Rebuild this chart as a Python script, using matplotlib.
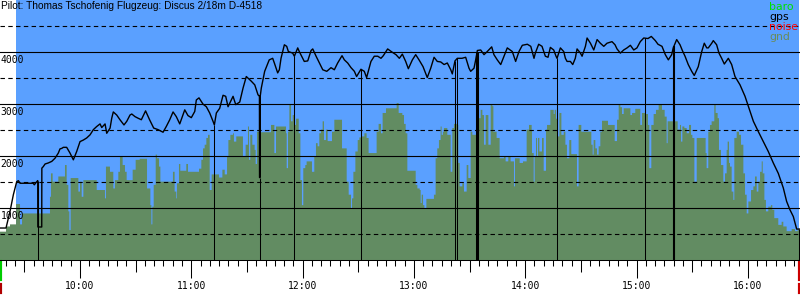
import numpy as np
import matplotlib
matplotlib.use("Agg")
import matplotlib.pyplot as plt
import matplotlib.transforms as mtransforms

title = "Pilot: Thomas Tschofenig Flugzeug: Discus 2/18m D-4518"

# time in decimal hours, altitude in m
gps_t = [9.281, 9.335, 9.371, 9.401, 9.431, 9.446, 9.461, 9.580, 9.589, 9.611, 9.620, 9.621, 9.656, 9.657,
         9.670, 9.686, 9.715, 9.746, 9.775, 9.805, 9.820, 9.836, 9.850, 9.880, 9.910, 9.940, 9.970,
         10.000, 10.030, 10.060, 10.090, 10.120, 10.150, 10.180, 10.195, 10.225, 10.240, 10.270, 10.285,
         10.299, 10.330, 10.359, 10.395, 10.420, 10.449, 10.465, 10.494, 10.521, 10.551, 10.589, 10.625,
         10.662, 10.701, 10.746, 10.775, 10.806, 10.836, 10.865, 10.896, 10.941, 10.970, 11.000, 11.031,
         11.045, 11.069, 11.105, 11.135, 11.165, 11.195, 11.207, 11.225, 11.255, 11.285, 11.309, 11.330,
         11.375, 11.399, 11.435, 11.465, 11.494, 11.539, 11.570, 11.599, 11.612, 11.613, 11.618, 11.619,
         11.629, 11.659, 11.689, 11.700, 11.731, 11.746, 11.776, 11.791, 11.806, 11.836, 11.857, 11.872,
         11.911, 11.926, 11.956, 11.970, 12.015, 12.046, 12.076, 12.091, 12.121, 12.151, 12.181, 12.217,
         12.255, 12.285, 12.315, 12.354, 12.375, 12.405, 12.435, 12.465, 12.485, 12.524, 12.554, 12.575,
         12.614, 12.644, 12.675, 12.704, 12.725, 12.764, 12.803, 12.839, 12.869, 12.896, 12.926, 12.950,
         12.986, 13.016, 13.046, 13.082, 13.120, 13.151, 13.181, 13.210, 13.241, 13.271, 13.300, 13.331,
         13.345, 13.369, 13.390, 13.432, 13.465, 13.495, 13.510, 13.540, 13.555, 13.570, 13.600, 13.630,
         13.659, 13.699, 13.719, 13.749, 13.780, 13.809, 13.839, 13.884, 13.914, 13.944, 13.974, 14.019,
         14.050, 14.079, 14.091, 14.121, 14.151, 14.181, 14.205, 14.226, 14.256, 14.277, 14.286, 14.316,
         14.346, 14.361, 14.376, 14.406, 14.427, 14.450, 14.466, 14.496, 14.511, 14.541, 14.556, 14.586,
         14.616, 14.646, 14.675, 14.706, 14.735, 14.780, 14.807, 14.825, 14.855, 14.885, 14.915, 14.945,
         14.975, 15.004, 15.034, 15.065, 15.103, 15.133, 15.169, 15.193, 15.229, 15.259, 15.286, 15.316,
         15.330, 15.361, 15.391, 15.412, 15.436, 15.465, 15.496, 15.519, 15.555, 15.586, 15.609, 15.631,
         15.645, 15.676, 15.690, 15.720, 15.741, 15.765, 15.789, 15.825, 15.855, 15.885, 15.930, 15.975,
         16.020, 16.050, 16.095, 16.140, 16.184, 16.229, 16.274, 16.319, 16.349, 16.379, 16.409, 16.439,
         16.469]
gps_alt = [620, 620, 940, 1260, 1510, 1530, 1480, 1480, 1450, 1510, 1530, 640, 640, 1770,
           1800, 1850, 1870, 1900, 1960, 2060, 2140, 2150, 2170, 2170, 2060, 1930, 2090,
           2280, 2310, 2350, 2410, 2510, 2570, 2620, 2550, 2620, 2440, 2540, 2730,
           2850, 2790, 2700, 2600, 2670, 2790, 2810, 2760, 2730, 2700, 2870, 2700,
           2540, 2510, 2460, 2570, 2700, 2850, 2760, 2620, 2890, 2780, 2740, 2860,
           3080, 3120, 3000, 2950, 2830, 2670, 2600, 2830, 2920, 3170, 3150, 2950,
           3150, 2990, 3040, 3310, 3530, 3440, 3370, 3180, 3150, 1590, 1590, 3150,
           3310, 3630, 3790, 3850, 3880, 3790, 3600, 3660, 3880, 4140, 4110, 4010,
           3980, 3920, 4080, 4010, 3820, 3830, 4030, 4060, 3920, 3790, 3660, 3630,
           3700, 3660, 3790, 3930, 3850, 3790, 3700, 3630, 3530, 3670, 3630, 3510,
           3820, 3920, 3920, 3880, 3930, 4060, 4000, 3950, 3880, 3960, 3820, 3680,
           3850, 3950, 3850, 3720, 3510, 3690, 3900, 3820, 3810, 3760, 3790, 3660,
           3580, 3830, 3880, 3880, 3900, 3690, 3630, 3690, 3850, 4030, 4040, 3950,
           4010, 4100, 3950, 3850, 3760, 3920, 4080, 4010, 3820, 4010, 4130, 4150,
           4110, 3880, 3980, 4150, 4110, 3920, 3900, 4090, 4040, 3920, 3880, 4080,
           4010, 3880, 3820, 3820, 3760, 3880, 4060, 3980, 3920, 4110, 4270, 4170,
           4040, 4240, 4170, 4110, 4170, 4200, 4140, 4060, 3980, 4040, 4080, 4130,
           4040, 4080, 4200, 4270, 4260, 4300, 4220, 4150, 4110, 3950, 3850, 3950,
           4080, 4240, 4140, 4030, 3920, 3760, 3630, 3550, 3720, 4010, 4170, 4080,
           4080, 4170, 4220, 4140, 3980, 3880, 3770, 3880, 3760, 3530, 3370, 3150,
           2860, 2670, 2470, 2280, 2090, 1870, 1670, 1390, 1130, 970, 840, 600,
           600]

gnd_t = [9.281, 9.335, 9.371, 9.425, 9.461, 9.479, 9.730, 9.739, 9.754, 9.805, 9.865, 9.880, 9.895,
         9.904, 9.916, 9.985, 10.000, 10.015, 10.030, 10.150, 10.224, 10.233, 10.269, 10.299, 10.314,
         10.344, 10.359, 10.383, 10.404, 10.419, 10.473, 10.500, 10.536, 10.602, 10.632, 10.641, 10.650,
         10.662, 10.680, 10.692, 10.710, 10.722, 10.835, 10.850, 10.865, 10.871, 10.889, 10.901, 10.955,
         10.970, 11.069, 11.090, 11.105, 11.120, 11.135, 11.150, 11.165, 11.183, 11.249, 11.279, 11.300,
         11.321, 11.333, 11.351, 11.375, 11.383, 11.404, 11.464, 11.488, 11.509, 11.518, 11.530, 11.548,
         11.569, 11.578, 11.590, 11.620, 11.671, 11.716, 11.746, 11.761, 11.851, 11.857, 11.869, 11.881,
         11.896, 11.911, 11.926, 11.941, 11.965, 11.980, 11.994, 12.006, 12.024, 12.036, 12.084, 12.105,
         12.120, 12.135, 12.150, 12.165, 12.180, 12.192, 12.210, 12.225, 12.264, 12.285, 12.354, 12.396,
         12.414, 12.435, 12.444, 12.456, 12.474, 12.495, 12.510, 12.525, 12.555, 12.575, 12.593, 12.665,
         12.683, 12.704, 12.719, 12.749, 12.845, 12.863, 12.896, 12.911, 12.926, 12.941, 13.016, 13.031,
         13.052, 13.061, 13.070, 13.082, 13.094, 13.112, 13.180, 13.195, 13.210, 13.225, 13.240, 13.249,
         13.261, 13.270, 13.300, 13.330, 13.345, 13.360, 13.390, 13.399, 13.411, 13.435, 13.450, 13.474,
         13.489, 13.510, 13.525, 13.585, 13.600, 13.615, 13.630, 13.645, 13.669, 13.690, 13.705, 13.714,
         13.743, 13.770, 13.809, 13.824, 13.848, 13.869, 13.899, 13.908, 13.950, 13.980, 14.013, 14.034,
         14.058, 14.061, 14.076, 14.085, 14.097, 14.106, 14.115, 14.127, 14.151, 14.166, 14.187, 14.196,
         14.226, 14.256, 14.265, 14.277, 14.295, 14.307, 14.325, 14.346, 14.361, 14.375, 14.396, 14.414,
         14.465, 14.480, 14.504, 14.594, 14.606, 14.615, 14.630, 14.645, 14.660, 14.675, 14.690, 14.744,
         14.804, 14.825, 14.840, 14.855, 14.870, 14.885, 14.945, 14.960, 14.989, 15.034, 15.049, 15.079,
         15.103, 15.115, 15.133, 15.154, 15.175, 15.199, 15.229, 15.253, 15.271, 15.280, 15.370, 15.391,
         15.400, 15.412, 15.430, 15.451, 15.472, 15.490, 15.502, 15.520, 15.541, 15.621, 15.630, 15.645,
         15.660, 15.675, 15.699, 15.711, 15.729, 15.741, 15.759, 15.780, 15.795, 15.810, 15.819, 15.831,
         15.840, 15.855, 15.870, 15.879, 15.900, 15.921, 15.939, 15.960, 15.975, 15.990, 16.005, 16.029,
         16.050, 16.065, 16.080, 16.095, 16.110, 16.125, 16.134, 16.149, 16.163, 16.184, 16.208, 16.220,
         16.238, 16.274, 16.304, 16.319, 16.349, 16.394, 16.424, 16.448, 16.469]
gnd_alt = [550, 650, 690, 1080, 690, 900, 1220, 1670, 1510, 1610, 1830, 1450, 940,
           580, 1580, 1320, 1510, 1220, 1540, 1350, 1190, 1800, 1700, 1380, 1540,
           1700, 1990, 1830, 1700, 1540, 1740, 1930, 1950, 1380, 1060, 690, 1030,
           1450, 2030, 1960, 1800, 1510, 1700, 1320, 1190, 1480, 1850, 1720, 1850,
           1700, 1760, 1930, 2150, 2220, 2350, 2410, 1350, 1650, 1590, 1740, 1650,
           1990, 2310, 2410, 2440, 2280, 2380, 1990, 2220, 2570, 1930, 2410, 2220,
           2120, 1850, 2470, 2460, 2460, 2600, 2060, 2570, 2440, 1770, 2470, 2990,
           2670, 2790, 2600, 2720, 2440, 1540, 1060, 1770, 1830, 1900, 1700, 1990,
           2250, 2190, 2440, 2510, 2670, 2310, 2510, 2290, 2470, 2700, 2150, 1510,
           1260, 1000, 1190, 1700, 2090, 2310, 2360, 2380, 2440, 2350, 2060, 2470,
           2620, 2440, 2830, 2920, 3020, 2830, 2790, 2620, 2440, 1720, 1450, 1380,
           1350, 1100, 1260, 1060, 990, 1180, 1260, 1960, 2150, 2310, 2570, 2410,
           2470, 2540, 2410, 1700, 2540, 2620, 2600, 1870, 1420, 1480, 1320, 1830,
           1580, 2470, 2410, 2730, 2890, 2790, 2220, 2790, 2220, 2990, 2960, 2470,
           2350, 1960, 1990, 1900, 1990, 1900, 1420, 1960, 1870, 1900, 2510, 2600,
           2490, 2060, 1510, 1990, 2350, 1990, 2350, 2090, 2350, 1720, 2510, 2600,
           2890, 2810, 2890, 2720, 2380, 2830, 2410, 2470, 2220, 1960, 2310, 2040,
           1420, 2600, 2470, 2220, 2030, 2310, 2150, 2030, 2190, 2470, 2680, 2600,
           2290, 2700, 2990, 2940, 2810, 2920, 2790, 2830, 2910, 2600, 2830, 2810,
           2600, 1770, 2600, 2810, 2890, 2990, 2890, 2760, 2250, 2670, 2510, 2600,
           2280, 2570, 2540, 2440, 2600, 2410, 2350, 1510, 2350, 2060, 1770, 2470,
           2600, 2670, 2990, 2830, 2730, 2120, 1830, 1510, 1670, 2120, 2280, 1870,
           1800, 1320, 1160, 2350, 2470, 2410, 2220, 1670, 1260, 900, 1130, 1350,
           1420, 1610, 1320, 1510, 1700, 1900, 1670, 1160, 940, 1030, 1060, 970,
           810, 680, 740, 650, 560, 600, 560, 580, 580]

# vertical markers (time, line width in pt)
mark_t = [9.620, 11.207, 11.613, 11.926, 12.524, 13.369, 13.390, 13.567, 14.286, 15.074, 15.337, 16.460]
mark_w = [0.75, 0.75, 0.75, 0.75, 0.75, 0.75, 0.75, 2.2, 0.75, 0.75, 1.5, 0.75]

t_start, t_end = 9.281, 16.469
flight_start, flight_end = 9.425, 16.460

blue = "#5aa0ff"
green = "#628c62"

fig = plt.figure(figsize=(8, 3), dpi=100)
ax = fig.add_axes([0, 39.7 / 300, 1, 260.3 / 300])
ax.set_xlim(t_start, t_end)
ax.set_ylim(0, 5000)
ax.set_facecolor("white")

ax.axvspan(flight_start, flight_end, color=blue, lw=0, zorder=1)
ax.fill_between(gnd_t, gnd_alt, step="post", color=green, lw=0, zorder=2)

for lvl in range(500, 5000, 500):
    if lvl % 1000 == 0:
        ax.axhline(lvl, color="black", lw=0.8, zorder=3)
    else:
        ax.axhline(lvl, color="black", lw=0.8, ls=(0, (4, 3)), zorder=3)

tops = np.interp(mark_t, gps_t, gps_alt)
for t, top, w in zip(mark_t, tops, mark_w):
    ax.vlines(t, 0, top, color="black", lw=w, zorder=4)

ax.plot(gps_t, gps_alt, color="black", lw=1.0, zorder=5)

# axes cosmetics
for s in ["top", "left", "right"]:
    ax.spines[s].set_visible(False)
ax.spines["bottom"].set_linewidth(0.75)
ax.set_yticks([])

hours = list(range(10, 17))
ax.set_xticks(hours)
ax.set_xticklabels([f"{h}:00" for h in hours], family="DejaVu Sans Mono", fontsize=7)
minor = [m / 12 for m in range(int(np.ceil(t_start * 12)), int(t_end * 12) + 1) if m % 12 != 0]
ax.set_xticks(minor, minor=True)
ax.tick_params(axis="x", which="major", length=13, width=0.75, pad=2, direction="out")
ax.tick_params(axis="x", which="minor", length=4.3, width=0.75, direction="out")
for loc, tick in zip(minor, ax.xaxis.get_minor_ticks(len(minor))):
    if round(loc * 12) % 6 == 0:
        tick.tick1line.set_markersize(8.6)

for v in [1000, 2000, 3000, 4000]:
    ax.annotate(str(v), xy=(0, v), xycoords=("axes fraction", "data"), xytext=(0.3, -2),
                textcoords="offset points", ha="left", va="top",
                family="DejaVu Sans Mono", fontsize=7, zorder=6)

ax.text(0.001, 0.997, title, transform=ax.transAxes, ha="left", va="top",
        family="Liberation Sans", fontsize=7.3, zorder=6)

legend = [("baro", "#00e000"), ("gps", "black"), ("noise", "#ff0000"), ("gnd", "#6a8c5a")]
base = [10, 19.5, 30, 39.5]
for (txt, col), b in zip(legend, base):
    ax.text(769 / 800, 1 - b / 260.3, txt, transform=ax.transAxes, ha="left", va="baseline",
            color=col, family="DejaVu Sans", fontsize=7.8, zorder=6)

# takeoff / landing flags below the axis
trans = mtransforms.blended_transform_factory(ax.transData, ax.transAxes)
ax.plot([t_start, t_start], [-0.006, -0.072], transform=trans, color="#00cc00", lw=3, clip_on=False)
ax.plot([t_start, t_start], [-0.095, -0.122], transform=trans, color="#b00000", lw=3, clip_on=False)
ax.plot([t_end, t_end], [-0.006, -0.072], transform=trans, color="#cc0000", lw=3, clip_on=False)
ax.plot([t_end, t_end], [-0.095, -0.122], transform=trans, color="#cc0000", lw=3, clip_on=False)

fig.savefig("out.png", dpi=100)
